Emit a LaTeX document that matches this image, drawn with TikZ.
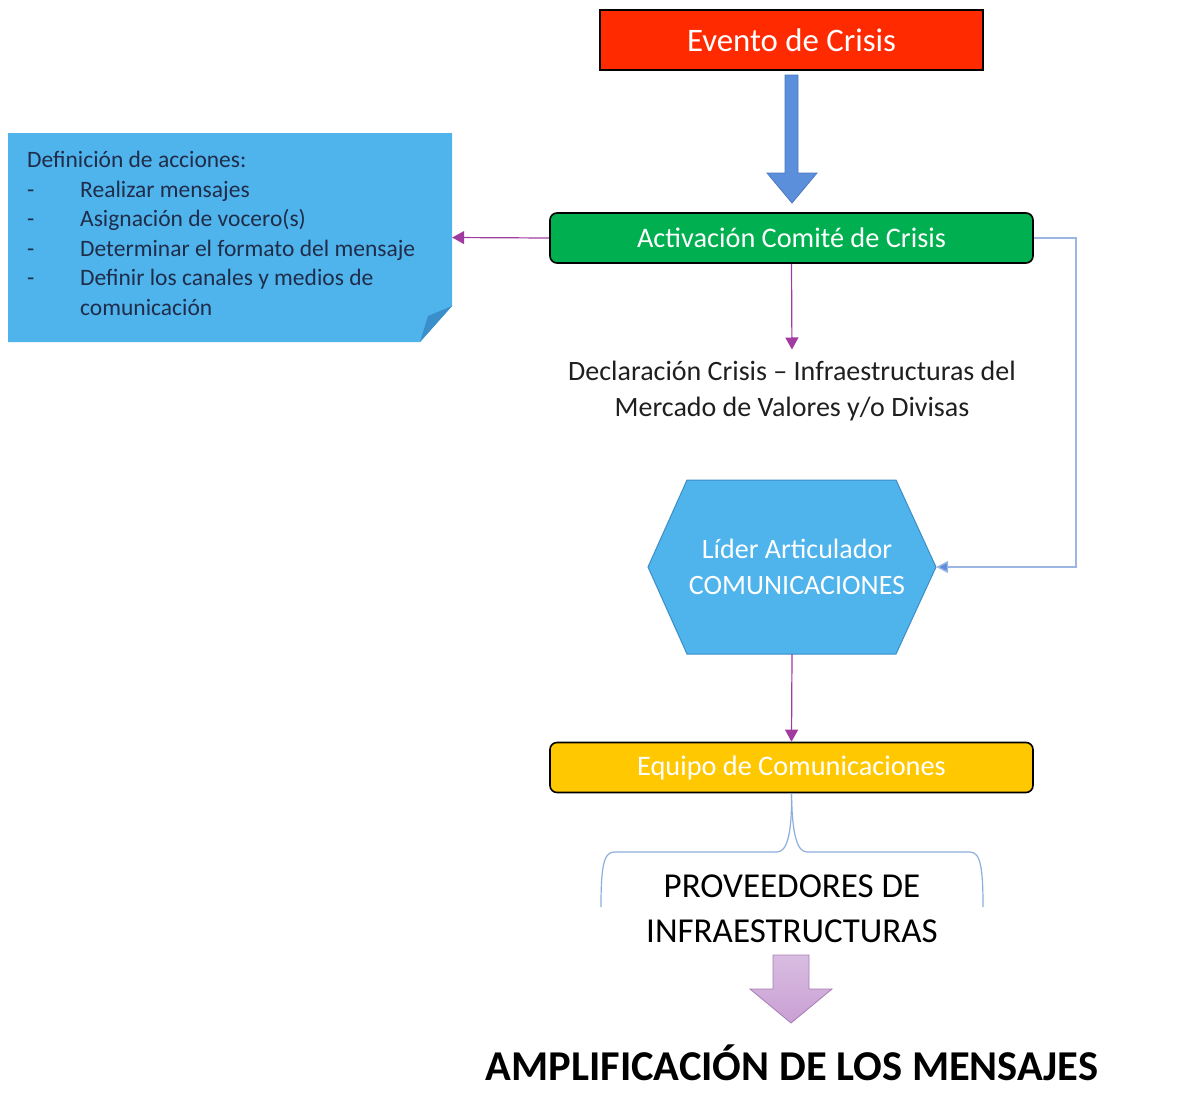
\documentclass[tikz,border=0pt]{standalone}
\usepackage{fontspec}
\setmainfont{Carlito}
\usetikzlibrary{arrows.meta}

\definecolor{eventored}{HTML}{FF2A00}
\definecolor{comitegreen}{HTML}{00B050}
\definecolor{equipoyellow}{HTML}{FFC800}
\definecolor{notablue}{HTML}{4FB3EC}
\definecolor{notafold}{HTML}{3A8FCB}
\definecolor{notatext}{HTML}{1F2D4A}
\definecolor{hexblue}{HTML}{4FB3EC}
\definecolor{hexedge}{HTML}{3D8EC6}
\definecolor{flechablue}{HTML}{5B8FDB}
\definecolor{flechaedge}{HTML}{4A78BF}
\definecolor{linkmag}{HTML}{A03CA0}
\definecolor{linkblue}{HTML}{9DB5E2}
\definecolor{bracecol}{HTML}{8CAEDC}
\definecolor{moradofill}{HTML}{C9A0D4}
\definecolor{moradoedge}{HTML}{A77DB5}

\begin{document}
\begin{tikzpicture}[x=1pt,y=-1pt,
	box/.style={draw=black,line width=1.6pt,text=white,minimum width=483pt,minimum height=50pt,rounded corners=7pt,inner sep=0pt,font=\fontsize{28.3}{34}\selectfont},
	link/.style={draw=linkmag,line width=1.2pt,-{Triangle[length=12pt,width=13pt]}},
	]
	\useasboundingbox (0,0) rectangle (1183,1117);
	%top box
		\node[box,rounded corners=0pt,minimum width=383pt,minimum height=60pt,fill=eventored,font=\fontsize{32.8}{38}\selectfont] (evento) at (791.5,40) {Evento de Crisis};
	%block arrow
		\draw[fill=flechablue,draw=flechaedge,line width=0.8pt] (785,75) -- (798,75) -- (798,173) -- (817,173) -- (792,203) -- (767,173) -- (785,173) -- cycle;
	%comite
		\node[box,fill=comitegreen] (comite) at (791.5,238) {Activación Comité de Crisis};
	%note with folded corner
		\fill[notablue] (8,133) -- (452,133) -- (452,306) -- (420,342) -- (8,342) -- cycle;
		\fill[notafold] (452,306) -- (428,316) -- (420,342) -- cycle;
		\node[minimum width=444pt,minimum height=209pt,inner sep=0pt] (acciones) at (230,237.5) {};
		\node[anchor=north west,inner sep=0pt,align=left,text=notatext,font=\fontsize{23.5}{29.6}\selectfont] (lista) at (27,151) {Definición de acciones:\\
			\makebox[53pt][l]{-}Realizar mensajes\\
			\makebox[53pt][l]{-}Asignación de vocero(s)\\
			\makebox[53pt][l]{-}Determinar el formato del mensaje\\
			\makebox[53pt][l]{-}Definir los canales y medios de\\
			\hspace*{53pt}comunicación};
	%declaracion
		\node[align=center,text=black!88,font=\fontsize{28}{36}\selectfont] (declaracion) at (792,391) {Declaración Crisis – Infraestructuras del\\Mercado de Valores y/o Divisas};
	%hexagon
		\draw[fill=hexblue,draw=hexedge,line width=1pt] (687,480) -- (896,480) -- (936,567) -- (896,654) -- (687,654) -- (648,567) -- cycle;
		\node[minimum width=288pt,minimum height=174pt,inner sep=0pt,align=center,text=white,font=\fontsize{28}{36}\selectfont] (lider) at (792,567) {\hspace*{10pt}Líder Articulador\\\hspace*{10pt}COMUNICACIONES};
	%equipo
		\node[box,fill=equipoyellow] (equipo) at (791.5,767.5) {\raisebox{-4pt}{Equipo de Comunicaciones}};
	%connectors
		\draw[link] (comite.west) -- (acciones.east);
		\draw[link,shorten >=8pt] (comite.south) -- (declaracion.north);
		\coordinate (codo) at (1076,238);
		\draw[draw=linkblue,line width=1.4pt,-{Triangle[length=12pt,width=12pt,fill=flechablue]}] (comite.east) -- (codo) |- (lider.east);
		\draw[link] (lider.south) -- (equipo.north);
	%brace
		\coordinate (braceL) at (601,907);
		\coordinate (braceR) at (983,907);
		\draw[bracecol,line width=1.2pt] (braceL) .. controls (601,870) and (603,852) .. (614,852) -- (777,852) .. controls (788,852) and (792,830) .. (equipo.south);
		\draw[bracecol,line width=1.2pt] (braceR) .. controls (983,870) and (981,852) .. (970,852) -- (807,852) .. controls (796,852) and (792,830) .. (equipo.south);
		\node[align=center,font=\fontsize{35}{45}\selectfont] (proveedores) at (792,909) {PROVEEDORES DE\\INFRAESTRUCTURAS};
	%purple block arrow
		\draw[top color=moradofill!70!white,bottom color=moradofill,draw=moradoedge,line width=0.8pt] (773,955) -- (809,955) -- (809,989) -- (832,989) -- (791,1023) -- (750,989) -- (773,989) -- cycle;
		\node[font=\fontsize{42.5}{50}\selectfont\bfseries] (amplificacion) at (792,1063) {AMPLIFICACIÓN DE LOS MENSAJES};
\end{tikzpicture}
\end{document}
